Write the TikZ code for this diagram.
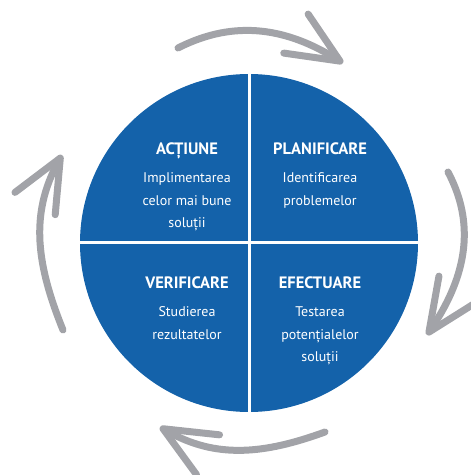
\documentclass[tikz,border=0pt]{standalone}
\usepackage{fontspec}
\setmainfont{PT Sans}
\usetikzlibrary{positioning,arrows.meta}

\definecolor{cycleblue}{RGB}{20,98,170}
\definecolor{arrowgray}{RGB}{162,163,168}

\tikzset{
	phase/.style={text=white, inner sep=0pt, anchor=base,
		font=\bfseries\fontsize{16.5}{16.5}\selectfont},
	task/.style={text=white, inner sep=0pt, align=center,
		font=\fontsize{14}{22.3}\selectfont},
	turn/.style={arrowgray, line width=7pt, line cap=round,
		-{Straight Barb[length=52pt, width=46pt, round]}},
	divider/.style={white, line width=3pt}
}

\begin{document}
\begin{tikzpicture}[x=1pt, y=1pt]
	\useasboundingbox (0,0) rectangle (471,475);
	
	\node[circle, fill=cycleblue, minimum size=338pt, inner sep=0pt] (disc) at (249,232) {};
	\draw[divider] (disc.north) -- (disc.south);
	\draw[divider] (disc.west) -- (disc.east);
	
	\node[phase] (act) at (187,320.2) {ACȚIUNE};
	\node[phase] (plan) at (320,320.2) {PLANIFICARE};
	\node[phase] (verif) at (187,186.2) {VERIFICARE};
	\node[phase] (efect) at (320,186.2) {EFECTUARE};
	
	\node[task, below=18pt of act.base] (actt) {Implimentarea\\celor mai bune\\soluții};
	\node[task, below=18pt of plan.base] (plant) {Identificarea\\problemelor};
	\node[task, below=18pt of verif.base] (veriff) {Studierea\\rezultatelor};
	\node[task, below=18pt of efect.base] (efectt) {Testarea\\potențialelor\\soluții};
	
	\coordinate (t0) at (178,427);
	\coordinate (t1) at (343,412);
	\coordinate (r0) at (448,303);
	\coordinate (r1) at (427,140);
	\coordinate (b0) at (325,43);
	\coordinate (b1) at (160,48);
	\coordinate (l0) at (63,145);
	\coordinate (l1) at (62,320);
	
	\draw[turn] (t0) to[out=27, in=148] (t1);
	\draw[turn] (r0) to[out=-62, in=56] (r1);
	\draw[turn] (b0) to[out=200, in=-30] (b1);
	\draw[turn] (l0) to[out=112, in=241] (l1);
\end{tikzpicture}
\end{document}
